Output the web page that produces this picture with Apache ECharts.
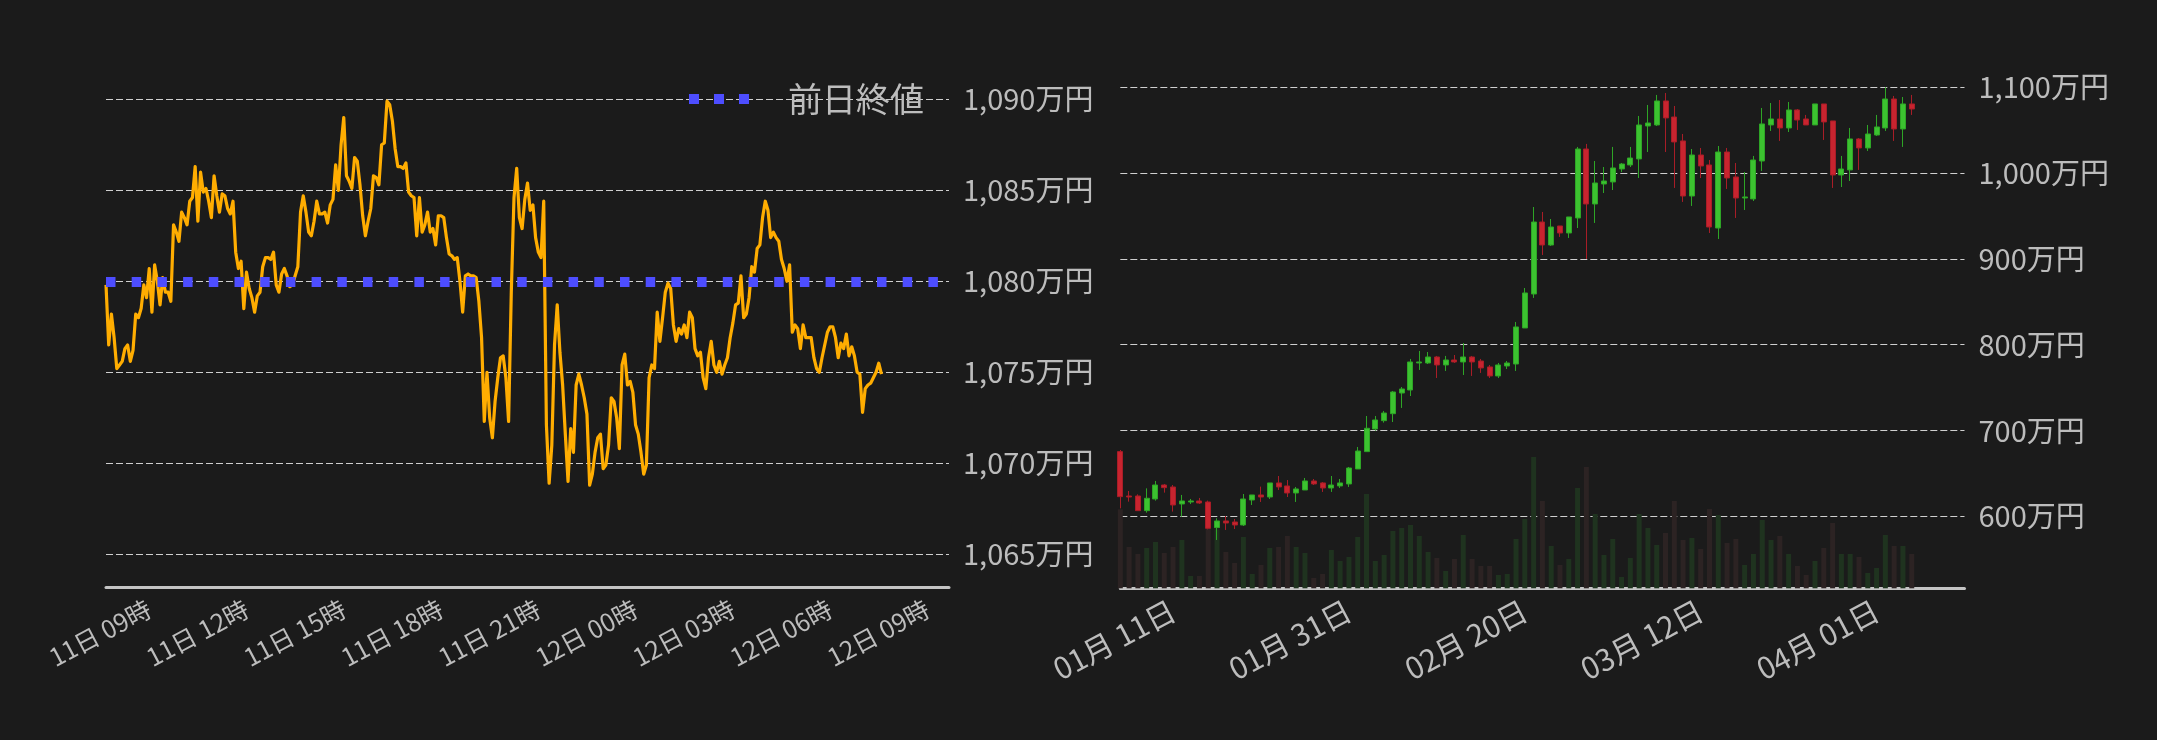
<!DOCTYPE html>
<html>
<head>
<meta charset="utf-8">
<script src="https://cdn.jsdelivr.net/npm/echarts@6/dist/echarts.min.js"></script>
<style>
  html, body { margin: 0; padding: 0; background: #1b1b1b; }
  #chart { width: 2157px; height: 740px; }
</style>
</head>
<body>
<div id="chart"></div>
<script>
// --- intraday, 5 min steps from 11日 07:40 (万円) ---
const intradayPrice = [
  1079.8, 1076.5, 1078.2, 1076.9, 1075.2, 1075.4, 1075.6, 1076.3, 1076.5, 1075.6,
  1076.2, 1078.2, 1078.0, 1078.5, 1079.8, 1079.1, 1080.7, 1078.3, 1080.9, 1080.0,
  1078.7, 1080.2, 1079.4, 1079.4, 1078.9, 1083.1, 1082.7, 1082.2, 1083.8, 1083.5,
  1083.1, 1084.4, 1084.6, 1086.3, 1083.3, 1086.0, 1084.9, 1085.1, 1084.4, 1083.5,
  1085.8, 1084.7, 1083.8, 1084.8, 1084.7, 1084.0, 1083.7, 1084.4, 1081.6, 1080.7,
  1081.1, 1078.5, 1080.5, 1079.6, 1079.1, 1078.3, 1079.2, 1079.4, 1080.8, 1081.3,
  1081.3, 1081.2, 1081.6, 1079.8, 1079.4, 1080.4, 1080.7, 1080.3, 1079.7, 1079.8,
  1080.3, 1080.8, 1083.8, 1084.7, 1083.8, 1082.7, 1082.5, 1083.3, 1084.4, 1083.7,
  1083.7, 1083.8, 1083.2, 1084.2, 1084.5, 1086.4, 1085.0, 1087.5, 1089.0, 1085.8,
  1085.5, 1085.1, 1086.8, 1086.6, 1085.3, 1083.6, 1082.5, 1083.3, 1084.0, 1085.8,
  1085.7, 1085.3, 1087.5, 1087.6, 1089.9, 1089.7, 1088.8, 1087.3, 1086.3, 1086.3,
  1086.2, 1086.5, 1084.9, 1084.7, 1084.6, 1082.5, 1084.6, 1082.7, 1083.1, 1083.8,
  1082.7, 1082.9, 1082.0, 1083.6, 1083.6, 1083.5, 1082.4, 1081.5, 1081.4, 1081.2,
  1081.3, 1080.0, 1078.3, 1080.3, 1080.4, 1080.3, 1080.3, 1080.2, 1078.9, 1076.9,
  1072.3, 1075.0, 1072.5, 1071.4, 1073.4, 1074.7, 1075.8, 1075.9, 1074.7, 1072.3,
  1079.4, 1084.6, 1086.2, 1083.5, 1082.9, 1084.5, 1085.4, 1083.9, 1084.2, 1082.4,
  1081.6, 1081.3, 1084.4, 1072.1, 1068.9, 1071.0, 1076.5, 1078.7, 1076.1, 1074.3,
  1071.6, 1069.0, 1071.9, 1070.6, 1074.3, 1074.9, 1074.3, 1073.6, 1072.7, 1068.8,
  1069.4, 1070.6, 1071.4, 1071.6, 1069.7, 1069.9, 1071.0, 1073.6, 1073.4, 1072.5,
  1070.8, 1075.4, 1076.0, 1074.3, 1074.5, 1073.9, 1072.1, 1071.6, 1070.6, 1069.4,
  1069.9, 1074.7, 1075.4, 1075.2, 1078.3, 1076.7, 1078.0, 1079.4, 1079.9, 1079.6,
  1077.6, 1076.7, 1077.4, 1077.1, 1077.6, 1076.9, 1078.3, 1078.0, 1076.3, 1075.9,
  1076.1, 1074.7, 1074.1, 1075.8, 1076.7, 1075.4, 1075.0, 1075.6, 1074.9, 1075.4,
  1075.8, 1076.9, 1077.7, 1078.7, 1078.8, 1080.3, 1078.0, 1078.2, 1079.1, 1080.8,
  1080.5, 1081.8, 1082.0, 1083.5, 1084.4, 1083.9, 1082.4, 1082.7, 1082.4, 1082.2,
  1081.2, 1080.7, 1080.0, 1080.9, 1077.2, 1077.6, 1077.4, 1076.3, 1077.6, 1076.9,
  1076.9, 1076.9, 1075.8, 1075.2, 1075.0, 1075.8, 1076.5, 1077.2, 1077.5, 1077.5,
  1076.9, 1075.8, 1076.6, 1076.3, 1077.1, 1075.9, 1076.4, 1075.9, 1075.0, 1074.9,
  1072.8, 1074.1, 1074.3, 1074.4, 1074.7, 1075.0, 1075.5, 1074.9
];
const prevClose = 1080;

// --- daily candles from 01月05日: open / close / low / high (万円) ---
const dailyOpen = [
  675.4, 623.7, 623.7, 606.6, 620.2, 636.5, 634.2, 614.4, 616.7, 617.9,
  616.7, 586.8, 594.6, 593.4, 589.9, 619.0, 624.9, 622.5, 638.9, 635.4,
  627.2, 630.7, 641.2, 638.9, 633.0, 635.4, 637.7, 655.2, 675.4, 701.8,
  711.5, 719.6, 743.7, 747.2, 778.7, 778.7, 785.7, 776.4, 782.2, 779.9,
  785.7, 781.0, 774.1, 763.6, 775.2, 777.5, 819.5, 859.1, 943.0, 916.2,
  938.4, 930.2, 947.7, 1028.1, 964.0, 987.3, 989.7, 1004.8, 1009.5, 1016.5,
  1054.9, 1056.1, 1084.1, 1065.4, 1037.5, 973.3, 1021.1, 1009.5, 936.0, 1024.6,
  995.5, 971.0, 969.9, 1014.1, 1056.1, 1063.1, 1052.6, 1073.6, 1063.1, 1056.1,
  1080.6, 1060.8, 997.8, 1003.7, 1039.8, 1029.3, 1044.4, 1052.6, 1086.4, 1051.4,
  1080.6
];
const dailyClose = [
  622.9, 622.5, 606.6, 621.0, 636.5, 633.4, 613.2, 617.9, 617.9, 615.5,
  586.0, 594.6, 592.2, 589.9, 620.2, 624.9, 622.5, 638.9, 634.2, 627.2,
  631.9, 641.2, 637.7, 633.0, 636.5, 638.9, 656.3, 676.1, 702.6, 712.3,
  720.4, 744.9, 748.4, 779.9, 779.9, 785.7, 776.4, 782.2, 779.9, 785.7,
  779.9, 772.9, 763.6, 776.4, 778.7, 820.7, 860.3, 943.0, 916.2, 937.2,
  930.2, 948.9, 1028.1, 964.0, 988.5, 990.8, 1006.0, 1010.6, 1017.6, 1056.1,
  1058.4, 1084.1, 1064.3, 1036.3, 973.3, 1021.1, 1008.3, 937.2, 1024.6, 994.3,
  971.0, 972.2, 1015.3, 1057.3, 1063.1, 1052.6, 1073.6, 1061.9, 1056.1, 1080.6,
  1059.6, 997.8, 1004.8, 1039.8, 1029.3, 1045.6, 1053.8, 1086.4, 1051.4, 1080.6,
  1074.7
];
const dailyLow = [
  609.3, 617.1, 606.2, 604.3, 618.3, 627.6, 605.5, 599.6, 614.4, 614.4,
  584.8, 572.4, 584.1, 585.2, 588.7, 613.2, 616.7, 620.2, 630.7, 622.5,
  616.7, 630.7, 636.5, 628.4, 628.4, 633.0, 634.2, 655.2, 675.4, 699.8,
  709.2, 709.9, 726.3, 740.2, 770.6, 777.5, 761.2, 769.4, 778.7, 764.7,
  763.6, 767.1, 761.2, 761.2, 771.7, 769.4, 819.5, 854.5, 904.6, 915.1,
  925.6, 924.4, 936.0, 899.9, 941.9, 976.8, 980.3, 1001.3, 1007.1, 994.3,
  1024.6, 1054.9, 1024.6, 982.7, 966.4, 961.7, 994.3, 930.2, 923.2, 981.5,
  947.7, 957.0, 967.5, 1002.5, 1049.1, 1037.5, 1047.9, 1050.3, 1056.1, 1056.1,
  1038.6, 982.7, 983.8, 990.8, 1003.7, 1025.8, 1043.3, 1049.1, 1037.5, 1030.5,
  1067.8
];
const dailyHigh = [
  677.3, 629.5, 625.6, 632.6, 641.2, 637.7, 636.5, 624.9, 620.2, 621.4,
  618.3, 597.7, 600.4, 596.9, 626.0, 624.9, 634.6, 638.9, 647.0, 642.3,
  634.2, 644.7, 643.5, 640.0, 647.0, 643.5, 657.5, 680.8, 716.9, 716.9,
  722.8, 746.1, 750.7, 783.4, 792.7, 791.5, 786.9, 786.9, 788.0, 802.0,
  786.9, 783.4, 776.4, 778.7, 781.0, 826.5, 866.1, 960.5, 954.7, 946.5,
  938.4, 948.9, 1030.5, 1034.0, 1014.1, 1007.1, 1030.5, 1011.8, 1030.5, 1066.6,
  1079.4, 1091.1, 1093.4, 1078.2, 1045.6, 1028.1, 1029.3, 1015.3, 1031.6, 1029.3,
  1011.8, 1001.3, 1020.0, 1075.9, 1081.7, 1085.2, 1082.9, 1074.7, 1067.8, 1080.6,
  1080.6, 1060.8, 1020.0, 1052.6, 1040.9, 1056.1, 1067.8, 1100.0, 1089.9, 1088.7,
  1091.1
];
const dailyVolume = [
  237, 124, 103, 121, 139, 106, 124, 145, 37, 37,
  182, 177, 109, 76, 154, 43, 70, 121, 124, 157,
  124, 106, 31, 43, 115, 82, 94, 154, 283, 82,
  100, 172, 181, 190, 157, 109, 91, 52, 88, 160,
  88, 67, 67, 40, 43, 148, 208, 394, 262, 127,
  70, 88, 301, 364, 223, 100, 148, 34, 91, 223,
  181, 130, 166, 262, 145, 151, 118, 238, 220, 136,
  148, 70, 103, 205, 145, 157, 103, 67, 40, 82,
  121, 196, 103, 103, 94, 46, 61, 160, 127, 127,
  103
];

function pad(n) { return (n < 10 ? '0' : '') + n; }
function yen(v) {
  return String(Math.round(v)).replace(/\B(?=(\d{3})+(?!\d))/g, ',') + '万円';
}

// category axes: 5 min slots 11日 07:40 .. 12日 09:40, and days 01月05日 .. 04月11日
const timeCats = [];
for (let i = 0; i <= 312; i++) {
  const m = 7 * 60 + 40 + i * 5;
  const day = 11 + Math.floor(m / 1440);
  const mm = m % 1440;
  timeCats.push(day + '日 ' + pad(Math.floor(mm / 60)) + '時' + pad(mm % 60) + '分');
}
const dateCats = [];
for (let i = 0; i < 97; i++) {
  const d = new Date(Date.UTC(2025, 0, 5 + i));
  dateCats.push(pad(d.getUTCMonth() + 1) + '月 ' + pad(d.getUTCDate()) + '日');
}

const candleData = dailyOpen.map((o, i) => [o, dailyClose[i], dailyLow[i], dailyHigh[i]]);

const FONT = "'Noto Sans CJK JP', 'Noto Sans', sans-serif";
const LABEL = '#bcbcbc';
const GRIDLINE = { show: true, showMinLine: false, lineStyle: { color: '#cfcfcf', width: 1, type: [7, 3] } };
const PREV_COLOR = '#4d4dff';

const chart = echarts.init(document.getElementById('chart'));
chart.setOption({
  backgroundColor: '#1b1b1b',
  animation: false,
  textStyle: { fontFamily: FONT },
  legend: {
    left: 684,
    top: 77,
    itemWidth: 60,
    itemHeight: 10,
    data: [{
      name: '前日終値',
      icon: 'path://M0,0h10v10h-10z M25,0h10v10h-10z M50,0h10v10h-10z'
    }],
    itemStyle: { color: PREV_COLOR, borderWidth: 0 },
    textStyle: { color: '#bdbdbd', fontSize: 34, fontFamily: FONT, padding: [0, 0, 0, 34] }
  },
  grid: [
    { left: 106, top: 99.3, width: 843, height: 487.7 },
    { left: 1120.3, top: 87.3, width: 844.2, height: 501 }
  ],
  xAxis: [
    {
      type: 'category', gridIndex: 0, data: timeCats, boundaryGap: false,
      axisLine: { lineStyle: { color: '#c4c4c4', width: 3 } },
      axisTick: { show: false },
      axisLabel: {
        color: LABEL, fontSize: 25, rotate: 28, margin: 20, fontFamily: FONT,
        interval: (i, v) => v.endsWith('00分') && (parseInt(v.split(' ')[1]) % 3 === 0),
        formatter: v => v.split('時')[0] + '時'
      },
      splitLine: { show: false }
    },
    {
      type: 'category', gridIndex: 1, data: dateCats, boundaryGap: false,
      axisLine: { lineStyle: { color: '#c4c4c4', width: 3 } },
      axisTick: { show: false },
      axisLabel: {
        color: LABEL, fontSize: 30, rotate: 28, margin: 20, fontFamily: FONT,
        interval: (i) => i >= 6 && (i - 6) % 20 === 0
      },
      splitLine: { show: false }
    }
  ],
  yAxis: [
    {
      type: 'value', gridIndex: 0, position: 'right', min: 1063.2, max: 1090,
      axisLine: { show: false }, axisTick: { show: false },
      axisLabel: { color: LABEL, fontSize: 29, margin: 14, fontFamily: FONT, showMinLabel: false, formatter: yen },
      splitLine: GRIDLINE
    },
    {
      type: 'value', gridIndex: 1, position: 'right', min: 516.1, max: 1100,
      axisLine: { show: false }, axisTick: { show: false },
      axisLabel: { color: LABEL, fontSize: 29, margin: 14, fontFamily: FONT, showMinLabel: false, formatter: yen },
      splitLine: GRIDLINE
    },
    {
      type: 'value', gridIndex: 1, min: 0, max: 1503, show: false,
      splitLine: { show: false }
    }
  ],
  series: [
    {
      name: '価格', type: 'line', xAxisIndex: 0, yAxisIndex: 0,
      data: intradayPrice, symbol: 'none',
      lineStyle: { color: '#ffad01', width: 3.2, join: 'round' }
    },
    {
      name: '前日終値', type: 'line', xAxisIndex: 0, yAxisIndex: 0,
      data: [], symbol: 'none', color: PREV_COLOR,
      lineStyle: { color: PREV_COLOR, width: 10, type: [9.5, 16.2] },
      markLine: {
        silent: true, symbol: 'none', label: { show: false },
        lineStyle: { color: PREV_COLOR, width: 10, type: [9.5, 16.2] },
        data: [{ yAxis: prevClose }]
      }
    },
    {
      name: '出来高', type: 'bar', xAxisIndex: 1, yAxisIndex: 2,
      data: dailyVolume, barWidth: 5,
      itemStyle: {
        color: p => dailyClose[p.dataIndex] >= dailyOpen[p.dataIndex] ? '#1f331f' : '#2c2323'
      }
    },
    {
      name: '日足', type: 'candlestick', xAxisIndex: 1, yAxisIndex: 1,
      data: candleData, barWidth: 5.5,
      itemStyle: {
        color: '#3cc230', borderColor: '#2ea526',
        color0: '#c8242f', borderColor0: '#a81d27',
        borderWidth: 1
      }
    }
  ]
});
</script>
</body>
</html>
